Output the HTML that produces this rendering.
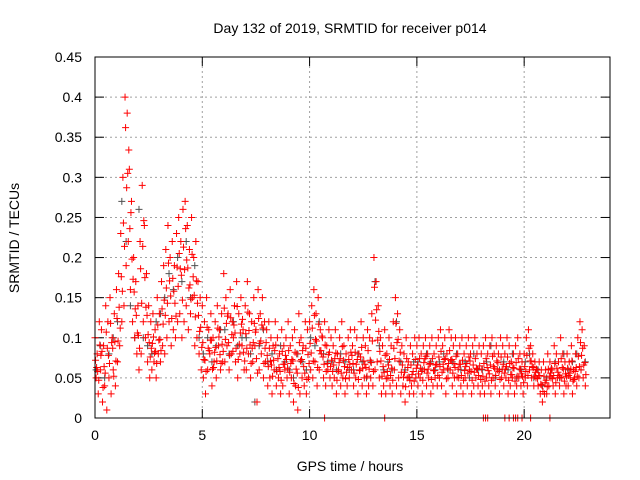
<!DOCTYPE html>
<html><head><meta charset="utf-8"><style>
body{margin:0;background:#fff}
svg{display:block;font-family:"Liberation Sans",sans-serif}
</style></head><body>
<svg id="chart" width="640" height="480" xmlns="http://www.w3.org/2000/svg">
<text x="350" y="33" text-anchor="middle" font-size="14">Day 132 of 2019, SRMTID for receiver p014</text>
<text transform="translate(19,238) rotate(-90)" text-anchor="middle" font-size="14">SRMTID / TECUs</text>
<text x="350" y="471" text-anchor="middle" font-size="14">GPS time / hours</text>
<g id="grid"></g>
<g id="ticks"></g>
<g id="pts"></g>
<rect x="95" y="57" width="515" height="361" fill="none" stroke="#000"/>
</svg>
<script>
const xTicks=[0,5,10,15,20];
const yTicks=[0,0.05,0.1,0.15,0.2,0.25,0.3,0.35,0.4,0.45];
const yTickLabels=["0","0.05","0.1","0.15","0.2","0.25","0.3","0.35","0.4","0.45"];
const redHi=[.10,.08,.12,.11,.09,.14,.12,.15,.10,.13,
.16,.18,.23,.30,.40,.38,.31,.27,.20,.17,
.14,.22,.29,.24,.18,.14,.12,.13,.11,.15,
.13,.17,.19,.21,.24,.20,.22,.19,.23,.25,
.22,.26,.27,.24,.21,.25,.20,.22,.17,.15,
.14,.12,.15,.11,.13,.10,.12,.14,.11,.13,
.18,.15,.13,.16,.12,.14,.17,.13,.15,.11,
.14,.17,.13,.12,.15,.11,.16,.13,.15,.12,
.11,.12,.10,.09,.12,.10,.08,.11,.09,.10,
.12,.09,.10,.11,.08,.13,.10,.09,.12,.11,
.12,.14,.16,.13,.15,.11,.10,.12,.09,.11,
.10,.09,.11,.08,.10,.12,.09,.08,.10,.11,
.09,.11,.10,.08,.12,.10,.09,.11,.10,.13,
.20,.17,.14,.10,.09,.11,.08,.10,.09,.12,
.15,.13,.11,.09,.08,.10,.07,.09,.08,.10,
.09,.10,.08,.09,.10,.08,.09,.10,.08,.09,
.10,.11,.09,.10,.08,.11,.10,.09,.10,.08,
.09,.10,.08,.09,.10,.08,.09,.10,.08,.09,
.08,.09,.10,.08,.09,.10,.08,.09,.08,.10,
.09,.08,.10,.09,.07,.08,.09,.10,.08,.07,
.08,.10,.11,.09,.08,.07,.06,.07,.06,.07,
.06,.08,.07,.06,.09,.08,.07,.10,.08,.07,
.08,.07,.09,.06,.08,.10,.12,.11,.09];
const redLo=[.05,.03,.06,.02,.04,.01,.05,.03,.06,.04,
.07,.09,.12,.14,.19,.22,.16,.12,.10,.08,
.06,.08,.12,.10,.07,.05,.06,.07,.05,.08,
.07,.09,.08,.10,.12,.09,.11,.10,.12,.13,
.10,.12,.14,.11,.13,.15,.09,.10,.08,.06,
.05,.03,.06,.08,.04,.07,.05,.09,.06,.07,
.07,.09,.06,.08,.10,.07,.05,.08,.09,.06,
.06,.08,.05,.07,.09,.02,.06,.08,.05,.07,
.04,.05,.03,.06,.04,.05,.03,.04,.06,.05,
.03,.05,.02,.04,.01,.03,.05,.04,.03,.05,
.06,.05,.07,.04,.06,.08,.05,.04,.06,.05,
.04,.05,.03,.06,.04,.05,.03,.04,.05,.06,
.04,.05,.03,.06,.04,.05,.03,.04,.05,.04,
.06,.07,.05,.03,.04,.03,.05,.04,.03,.06,
.04,.05,.03,.04,.02,.05,.03,.04,.03,.05,
.04,.05,.03,.06,.04,.05,.03,.04,.05,.04,
.05,.04,.06,.03,.05,.06,.04,.05,.03,.05,
.04,.03,.05,.04,.06,.03,.04,.05,.04,.03,
.04,.03,.05,.04,.03,.05,.04,.06,.03,.05,
.04,.05,.03,.04,.05,.03,.04,.05,.04,.03,
.05,.04,.06,.05,.04,.05,.04,.03,.02,.03,
.03,.04,.05,.04,.03,.05,.04,.05,.03,.04,
.04,.05,.03,.05,.04,.05,.06,.05,.04];
const redM1=[.072,.058,.091,.083,.064,.107,.078,.118,.087,.095,
.124,.138,.176,.243,.362,.305,.236,.198,.157,.128,
.103,.186,.214,.175,.128,.094,.087,.101,.083,.116,
.098,.136,.147,.162,.193,.152,.174,.143,.188,.205,
.178,.213,.236,.187,.166,.204,.153,.171,.128,.113,
.094,.072,.113,.084,.097,.063,.088,.112,.079,.092,
.137,.118,.094,.125,.083,.106,.139,.092,.117,.082,
.105,.132,.091,.087,.118,.074,.124,.096,.112,.087,
.078,.087,.066,.072,.091,.074,.058,.083,.067,.073,
.084,.068,.071,.082,.056,.094,.073,.064,.087,.079,
.093,.112,.128,.096,.117,.084,.076,.091,.068,.082,
.072,.066,.081,.058,.074,.089,.064,.057,.073,.082,
.068,.082,.073,.059,.088,.071,.063,.084,.072,.096,
.163,.135,.108,.071,.064,.078,.058,.073,.062,.087,
.118,.098,.082,.066,.057,.074,.051,.066,.058,.073,
.066,.074,.058,.069,.077,.061,.068,.074,.059,.067,
.076,.083,.067,.074,.062,.084,.073,.068,.077,.061,
.067,.072,.059,.068,.076,.058,.066,.074,.061,.065,
.061,.068,.074,.059,.066,.077,.062,.071,.058,.076,
.067,.061,.076,.068,.054,.062,.069,.074,.061,.052,
.064,.078,.087,.071,.063,.057,.049,.053,.041,.052,
.047,.061,.056,.049,.068,.062,.053,.074,.061,.055,
.062,.056,.071,.048,.063,.077,.094,.087,.069];
const redM2=[.063,.047,.078,.038,.056,.087,.068,.094,.052,.071,
.096,.112,.158,.214,.287,.334,.256,.173,.136,.106,
.087,.143,.246,.138,.104,.076,.093,.081,.068,.097,
.084,.117,.128,.143,.171,.124,.158,.127,.164,.186,
.147,.185,.197,.162,.148,.176,.126,.143,.108,.088,
.073,.058,.087,.097,.061,.082,.071,.101,.068,.083,
.098,.127,.078,.104,.116,.087,.073,.106,.123,.071,
.087,.109,.068,.094,.107,.056,.093,.116,.068,.094,
.064,.071,.052,.084,.058,.063,.047,.067,.078,.062,
.057,.073,.043,.061,.038,.071,.084,.056,.048,.068,
.081,.071,.098,.063,.084,.102,.067,.058,.079,.064,
.058,.074,.047,.069,.056,.072,.049,.063,.067,.078,
.056,.067,.048,.076,.062,.067,.052,.061,.069,.058,
.122,.097,.083,.052,.057,.049,.066,.053,.047,.074,
.094,.071,.057,.051,.039,.063,.047,.054,.046,.062,
.055,.062,.047,.074,.056,.067,.048,.059,.066,.053,
.064,.057,.073,.049,.068,.072,.056,.063,.051,.067,
.053,.047,.064,.056,.071,.047,.057,.062,.053,.048,
.052,.046,.063,.055,.047,.064,.053,.069,.048,.061,
.056,.064,.047,.054,.063,.046,.052,.061,.055,.044,
.058,.053,.071,.064,.052,.061,.053,.042,.033,.044,
.039,.052,.062,.053,.044,.057,.051,.063,.046,.052,
.053,.061,.046,.058,.052,.064,.078,.066,.054];
const gray=[.06,.09,.05,.08,.10,.12,.27,.22,.14,.10,.26,.10,.09,.08,.12,.13,.15,.18,.16,.20,
.17,.22,.15,.19,.10,.08,.10,.07,.09,.11,.11,.08,.12,.09,.10,.10,.08,.02,.09,.11,
.07,.08,.06,.09,.07,.06,.05,.08,.07,.06,.10,.09,.12,.08,.07,.07,.06,.08,.07,.06,
.06,.08,.07,.05,.07,.17,.09,.06,.07,.06,.12,.07,.06,.05,.07,.07,.06,.08,.07,.06,
.07,.08,.06,.07,.08,.06,.07,.05,.08,.06,.06,.07,.09,.05,.06,.07,.06,.08,.05,.06,
.07,.08,.05,.06,.04,.05,.06,.07,.05,.08,.06,.07,.08,.06,.07];
const zeroTimes=[10.7,13.5,18.1,18.2,18.3,19.1,19.3,19.5,19.6,19.7,19.9,20.3,21.2];

const X0=95,X1=610,Y0=418,Y1=57,XMAX=24,YMAX=0.45;
const sx=v=>X0+(X1-X0)*v/XMAX;
const sy=v=>Y0-(Y0-Y1)*v/YMAX;
const NS="http://www.w3.org/2000/svg";
function mk(tag,attrs,parent){const e=document.createElementNS(NS,tag);for(const k in attrs)e.setAttribute(k,attrs[k]);parent.appendChild(e);return e;}
const grid=document.getElementById('grid'),ticks=document.getElementById('ticks'),pts=document.getElementById('pts');
xTicks.forEach(t=>{
  const x=sx(t);
  if(t>0){const g=mk('line',{x1:x,x2:x,y1:Y0,y2:Y1,stroke:'#a0a0a0','stroke-dasharray':'2,3'},grid);
  
  }
  mk('line',{x1:x,x2:x,y1:Y0,y2:Y0-9,stroke:'#000'},ticks);
  mk('line',{x1:x,x2:x,y1:Y1,y2:Y1+9,stroke:'#000'},ticks);
  const l=mk('text',{x:x,y:Y0+22,'text-anchor':'middle','font-size':14},ticks);l.textContent=t;
  
  
});
yTicks.forEach((t,i)=>{
  const y=sy(t);
  if(t>0){const g=mk('line',{x1:X0,x2:X1,y1:y,y2:y,stroke:'#a0a0a0','stroke-dasharray':'2,3'},grid);
  
  }
  mk('line',{x1:X0,x2:X0+9,y1:y,y2:y,stroke:'#000'},ticks);
  mk('line',{x1:X1,x2:X1-9,y1:y,y2:y,stroke:'#000'},ticks);
  const l=mk('text',{x:X0-13,y:y+5,'text-anchor':'end','font-size':14},ticks);l.textContent=yTickLabels[i];
  
  
});
function plus(t,v,col,name){
  const x=sx(t),y=sy(v);
  const p=mk('path',{d:`M${x-3.5},${y}h7M${x},${y-3.5}v7`,stroke:col,'stroke-width':1,fill:'none'},pts);
  
  
}
gray.forEach((v,i)=>plus(i*0.2+0.05,v,'#505050','gray-point'));
redHi.forEach((v,i)=>plus(i*0.1,v,'#ff0000','red-point'));
redLo.forEach((v,i)=>plus(i*0.1+0.05,v,'#ff0000','red-point'));
redM1.forEach((v,i)=>plus(i*0.1+0.025,v,'#ff0000','red-point'));
redM2.forEach((v,i)=>plus(i*0.1+0.075,v,'#ff0000','red-point'));
zeroTimes.forEach(t=>plus(t,0,'#ff0000','zero-point'));
</script>
</body></html>
